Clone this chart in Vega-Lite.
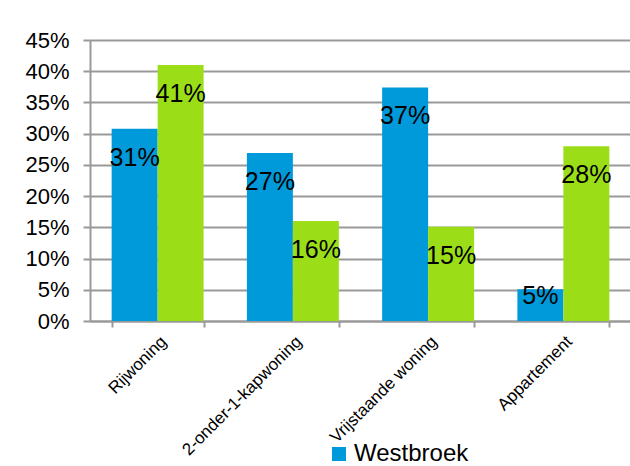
{
  "$schema": "https://vega.github.io/schema/vega-lite/v6.json",
  "width": 541,
  "height": 281,
  "autosize": {"type": "pad"},
  "padding": {"left": 24, "top": 29, "right": 0, "bottom": 0},
  "background": "white",
  "config": {
    "view": {"stroke": null},
    "font": "Liberation Sans"
  },
  "data": {
    "values": [
      {"type": "Rijwoning", "series": "Westbroek", "value": 0.308},
      {"type": "Rijwoning", "series": "Nederland", "value": 0.41},
      {"type": "2-onder-1-kapwoning", "series": "Westbroek", "value": 0.269},
      {"type": "2-onder-1-kapwoning", "series": "Nederland", "value": 0.16},
      {"type": "Vrijstaande woning", "series": "Westbroek", "value": 0.374},
      {"type": "Vrijstaande woning", "series": "Nederland", "value": 0.151},
      {"type": "Appartement", "series": "Westbroek", "value": 0.051},
      {"type": "Appartement", "series": "Nederland", "value": 0.28}
    ]
  },
  "encoding": {
    "x": {
      "field": "type",
      "type": "nominal",
      "sort": ["Rijwoning", "2-onder-1-kapwoning", "Vrijstaande woning", "Appartement"],
      "scale": {"paddingInner": 0.32, "paddingOuter": 0.16},
      "axis": {
        "title": null,
        "labelAngle": -45,
        "labelFontSize": 17,
        "labelColor": "black",
        "labelPadding": 6,
        "tickBand": "extent",
        "tickSize": 6,
        "tickWidth": 2,
        "tickColor": "#999999",
        "domainColor": "#999999",
        "domainWidth": 2,
        "grid": false
      }
    },
    "xOffset": {
      "field": "series",
      "type": "nominal",
      "sort": ["Westbroek", "Nederland"],
      "scale": {"paddingInner": 0, "paddingOuter": 0}
    },
    "y": {
      "field": "value",
      "type": "quantitative",
      "scale": {"domain": [0, 0.45], "nice": false},
      "axis": {
        "title": null,
        "values": [0, 0.05, 0.1, 0.15, 0.2, 0.25, 0.3, 0.35, 0.4, 0.45],
        "format": ".0%",
        "labelFontSize": 22,
        "labelColor": "black",
        "labelPadding": 14,
        "tickSize": 7,
        "tickWidth": 2,
        "tickColor": "#999999",
        "domainColor": "#999999",
        "domainWidth": 2,
        "grid": true,
        "gridColor": "#999999",
        "gridWidth": 2
      }
    }
  },
  "layer": [
    {
      "mark": {"type": "bar"},
      "encoding": {
        "color": {
          "field": "series",
          "type": "nominal",
          "scale": {"domain": ["Westbroek", "Nederland"], "range": ["#0099D9", "#9BDE18"]},
          "legend": {
            "title": null,
            "values": ["Westbroek"],
            "orient": "none",
            "legendX": 237,
            "legendY": 402,
            "symbolType": "square",
            "symbolSize": 196,
            "symbolStrokeWidth": 0,
            "labelFontSize": 24,
            "labelColor": "black",
            "labelOffset": 3
          }
        }
      }
    },
    {
      "transform": [{"filter": "datum.value >= 0.1"}],
      "mark": {"type": "text", "fontSize": 25, "color": "black", "baseline": "middle", "dy": 29},
      "encoding": {"text": {"field": "value", "type": "quantitative", "format": ".0%"}}
    },
    {
      "transform": [{"filter": "datum.value < 0.1"}],
      "mark": {"type": "text", "fontSize": 25, "color": "black", "baseline": "middle", "dy": 7},
      "encoding": {"text": {"field": "value", "type": "quantitative", "format": ".0%"}}
    }
  ]
}
